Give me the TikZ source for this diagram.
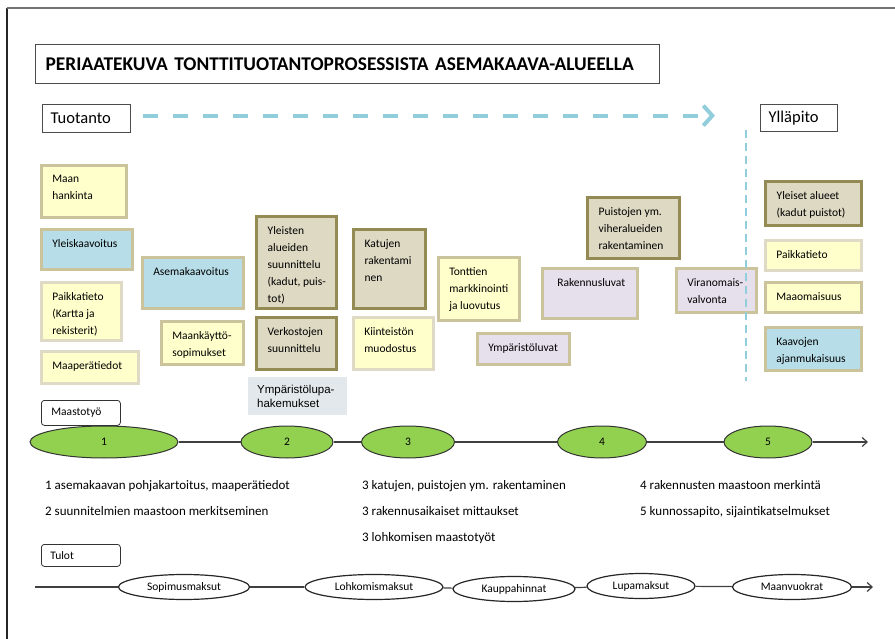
\documentclass[tikz,border=0pt]{standalone}
\usepackage{fontspec}
\setmainfont{Carlito}
\newfontfamily\arialfont{Liberation Sans}
\usetikzlibrary{shapes.geometric, arrows.meta}

\definecolor{cream}{HTML}{FFFFCC}
\definecolor{skyfill}{HTML}{B7DEE8}
\definecolor{sandfill}{HTML}{DDD9C3}
\definecolor{lilac}{HTML}{E5E0EC}
\definecolor{khaki}{HTML}{CBC39C}
\definecolor{paleline}{HTML}{DEDAC6}
\definecolor{olive}{HTML}{948A54}
\definecolor{dashblue}{HTML}{92CDDC}
\definecolor{leaf}{HTML}{92D050}
\definecolor{mist}{HTML}{E3E8EC}

\newcommand{\boxfont}{\fontsize{11.5}{17}\selectfont}
% width, height, text
\newcommand{\boxtext}[3]{\parbox[t][\dimexpr #2pt-20pt\relax][t]{#1pt}{\leftskip=11pt\relax #3}}

\begin{document}
\begin{tikzpicture}[
    x=1pt, y=-1pt,
    box/.style={draw, line width=2.6pt, anchor=north west, inner xsep=0pt, inner ysep=10pt, font=\boxfont},
    yellowbox/.style={box, fill=cream, draw=khaki},
    palebox/.style={box, fill=cream, draw=paleline},
    bluebox/.style={box, fill=skyfill, draw=khaki},
    sandbox/.style={box, fill=sandfill, draw=olive, line width=3.4pt},
    lilacbox/.style={box, fill=lilac, draw=khaki},
    headbox/.style={draw=black!70, line width=1.3pt, anchor=north west, align=left},
    tagbox/.style={draw=black!80, line width=0.8pt, rounded corners=3pt, anchor=north west, align=left, font=\fontsize{11.5}{13}\selectfont},
    phase/.style={ellipse, draw=black!80, line width=1pt, fill=leaf, minimum height=32pt, inner sep=0pt, font=\fontsize{11.5}{13}\selectfont},
    income/.style={ellipse, draw=black!85, line width=1.2pt, fill=white, minimum height=25pt, inner sep=0pt, font=\fontsize{11.5}{13}\selectfont},
    track/.style={draw=black!75, line width=1.2pt},
    note/.style={anchor=base west, inner sep=0pt, font=\fontsize{13}{15}\selectfont},
]
\useasboundingbox (0,0) rectangle (895,639);

% Frame
\draw[black!85, line width=1.2pt] (7,639) -- (7,8);
\draw[black!55, line width=2pt] (7,8) -- (895,8);

% Headings
\node[headbox, minimum height=39pt, text width=604pt, inner xsep=10pt, font=\fontsize{19.4}{21}\selectfont\bfseries] (title) at (35,44) {PERIAATEKUVA TONTTITUOTANTOPROSESSISTA ASEMAKAAVA-ALUEELLA};
\node[headbox, minimum height=28pt, text width=72pt, inner xsep=8pt, font=\fontsize{16.5}{18}\selectfont] (tuotanto) at (42,104) {Tuotanto};
\node[headbox, minimum height=27pt, text width=61pt, inner xsep=8pt, font=\fontsize{16.5}{18}\selectfont] (yllapito) at (760,104) {Ylläpito};

% Tuotanto
\node[yellowbox] (maan) at (40,164) {\boxtext{85}{52}{Maan\\hankinta}};
\node[bluebox] (yleiskaava) at (40,228) {\boxtext{91}{40}{Yleiskaavoitus}};
\node[palebox] (paikka) at (40,281) {\boxtext{80}{58}{Paikkatieto\\(Kartta ja\\rekisterit)}};
\node[palebox] (maapera) at (40,350) {\boxtext{97}{32}{Maaperätiedot}};
\node[bluebox] (asema) at (141,256) {\boxtext{101}{51}{Asemakaavoitus}};
\node[yellowbox] (sopimukset) at (160,320) {\boxtext{82}{43}{Maankäyttö-\\sopimukset}};
\node[sandbox] (yleisten) at (255,215) {\boxtext{80}{92}{Yleisten\\alueiden\\suunnittelu\\(kadut, puis-\\tot)}};
\node[sandbox] (verkosto) at (255,316) {\boxtext{80}{52}{Verkostojen\\suunnittelu}};
\node[anchor=north west, fill=mist, inner xsep=0pt, inner ysep=8pt, font=\arialfont\fontsize{11.5}{14}\selectfont] (lupahak) at (248,377) {\parbox[t][22pt][t]{99pt}{\leftskip=9pt\relax Ympäristölupa-\\hakemukset}};
\node[sandbox] (katujen) at (352,228) {\boxtext{72}{79}{Katujen\\rakentami\\nen}};
\node[palebox] (kiinteisto) at (352,316) {\boxtext{80}{52}{Kiinteistön\\muodostus}};
\node[yellowbox] (tonttien) at (437,256) {\boxtext{81}{63}{Tonttien\\markkinointi\\ja luovutus}};
\node[lilacbox] (ymparisto) at (476,332) {\boxtext{92}{31}{Ympäristöluvat}};
\node[lilacbox] (rakluvat) at (541,267) {\boxtext{95}{50}{\hspace{4pt}Rakennusluvat}};
\node[sandbox] (puistot) at (586,196) {\boxtext{92}{61}{Puistojen ym.\\viheralueiden\\rakentaminen}};
\node[lilacbox] (valvonta) at (675,267) {\boxtext{80}{44}{Viranomais-\\valvonta}};

% Ylläpito
\node[sandbox] (yleiset) at (764,180) {\boxtext{96}{44}{Yleiset alueet\\(kadut puistot)}};
\node[palebox] (paikka2) at (764,239) {\boxtext{96}{30}{Paikkatieto}};
\node[yellowbox] (omaisuus) at (764,281) {\boxtext{96}{30}{Maaomaisuus}};
\node[bluebox] (kaavat) at (764,326) {\boxtext{96}{43}{Kaavojen\\ajanmukaisuus}};

% Flow and split
\draw[dashblue, line width=4pt, dash pattern=on 15pt off 15pt, -{Straight Barb[length=9pt, width=20pt]}] ([xshift=12pt, yshift=3pt]tuotanto.east) -- ([xshift=-45pt, yshift=2.5pt]yllapito.west);
\coordinate (splittop) at (746,130);
\coordinate (splitbot) at (746,381);
\draw[dashblue, line width=2.6pt, dash pattern=on 8pt off 5pt] (splittop) -- (splitbot);

% Maastotyö
\node[tagbox, minimum height=25pt, text width=59pt, inner xsep=10pt] (maastotyo) at (41,400) {Maastotyö};
\node[phase, minimum width=148pt] (m1) at (104,442) {1};
\node[phase, minimum width=92pt] (m2) at (287,442) {2};
\node[phase, minimum width=93pt] (m3) at (408,442) {3};
\node[phase, minimum width=89pt] (m4) at (602,442) {4};
\node[phase, minimum width=88pt] (m5) at (768,442) {5};
\coordinate (mend) at (868,442);
\foreach \a/\b in {m1/m2, m2/m3, m3/m4, m4/m5}
    \draw[track] (\a) -- (\b);
\draw[track, -{Straight Barb[length=5pt, width=9pt]}] (m5) -- (mend);

\node[note] (n1) at (45,489) {1 asemakaavan pohjakartoitus, maaperätiedot};
\node[note] (n2) at (45,515) {2 suunnitelmien maastoon merkitseminen};
\node[note] (n3a) at (362,489) {3 katujen, puistojen ym. rakentaminen};
\node[note] (n3b) at (362,515) {3 rakennusaikaiset mittaukset};
\node[note] (n3c) at (362,541) {3 lohkomisen maastotyöt};
\node[note] (n4) at (640,489) {4 rakennusten maastoon merkintä};
\node[note] (n5) at (640,515) {5 kunnossapito, sijaintikatselmukset};

% Tulot
\node[tagbox, minimum height=22pt, text width=61pt, inner xsep=9pt] (tulot) at (41,544) {Tulot};
\node[income, minimum width=131pt] (sopimus) at (184,587) {Sopimusmaksut};
\node[income, minimum width=138pt] (lohko) at (374,587) {Lohkomismaksut};
\node[income, minimum width=122pt] (kauppa) at (514,589) {Kauppahinnat};
\node[income, minimum width=108pt] (lupa) at (641,586) {Lupamaksut};
\node[income, minimum width=119pt] (vuokra) at (792,587) {Maanvuokrat};
\coordinate (tstart) at (35,587);
\coordinate (tend) at (873,587);
\draw[track] (tstart) -- (sopimus);
\foreach \a/\b in {sopimus/lohko, lohko/kauppa, kauppa/lupa, lupa/vuokra}
    \draw[track] (\a) -- (\b);
\draw[track, -{Straight Barb[length=5pt, width=9pt]}] (vuokra) -- (tend);

\end{tikzpicture}
\end{document}
